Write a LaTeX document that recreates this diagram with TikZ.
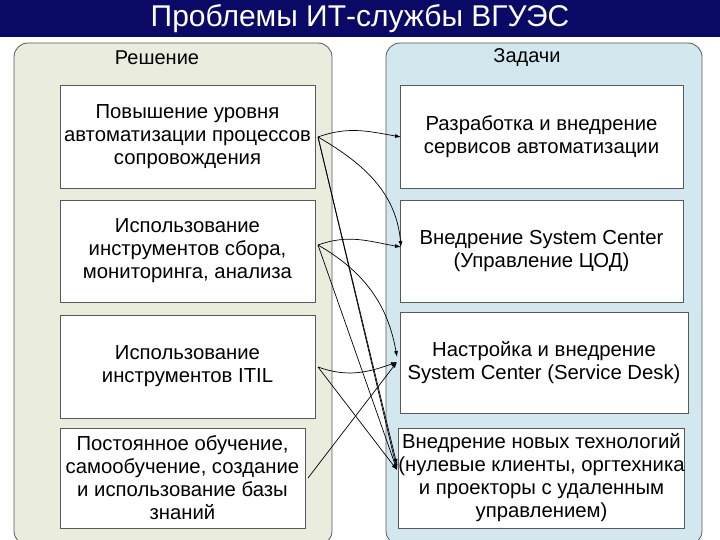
\documentclass[tikz,border=0pt]{standalone}
\usepackage{fontspec}
\setmainfont{Liberation Sans}
\usetikzlibrary{arrows.meta}
\definecolor{tbar}{HTML}{0A0A66}
\definecolor{lpan}{HTML}{EAECDD}
\definecolor{rpan}{HTML}{D2E8EE}
\tikzset{panel/.style={draw=gray!70!black,rounded corners=14pt,line width=0.8pt},
box/.style={draw=gray!70!black,fill=white,line width=0.6pt,align=center,font=\fontsize{20.3}{23}\selectfont,inner sep=0pt},
arr/.style={-{Latex[length=6pt,width=4pt]},line width=0.7pt}}
\begin{document}
\begin{tikzpicture}[x=1pt,y=-1pt]
\useasboundingbox (0,0) rectangle (720,540);
\fill[tbar] (0,0) rectangle (720,37);
\node[text=white,font=\fontsize{30}{32}\selectfont] (title) at (360,19) {Проблемы ИТ-службы ВГУЭС};
\draw[panel,fill=lpan] (14,43) rectangle (332,545);
\draw[panel,fill=rpan] (386,43) rectangle (702,545);
\node[font=\fontsize{20}{22}\selectfont] (hl) at (157,58) {Решение};
\node[font=\fontsize{20}{22}\selectfont] (hr) at (527,58) {Задачи};
\node[box,minimum width=255pt,minimum height=103pt] (l1) at (187.5,136.5) {Повышение уровня\\автоматизации процессов\\сопровождения};
\node[box,minimum width=255pt,minimum height=102pt] (l2) at (187.5,251) {Использование\\инструментов сбора,\\мониторинга, анализа};
\node[box,minimum width=255pt,minimum height=103pt] (l3) at (187.5,366.5) {Использование\\инструментов ITIL};
\node[box,minimum width=245pt,minimum height=100pt] (l4) at (182.5,478) {Постоянное обучение,\\самообучение, создание\\и использование базы\\знаний};
\node[box,minimum width=283pt,minimum height=103pt] (r1) at (541.5,136.5) {Разработка и внедрение\\сервисов автоматизации};
\node[box,minimum width=283pt,minimum height=102pt] (r2) at (541.5,251) {Внедрение System Center\\(Управление ЦОД)};
\node[box,minimum width=288pt,minimum height=101pt] (r3) at (544,362.5) {Настройка и внедрение\\System Center (Service Desk)};
\node[box,minimum width=283pt,minimum height=100pt] (r4) at (541.5,478) {Внедрение новых технологий\\(нулевые клиенты, оргтехника\\и проекторы с удаленным\\управлением)};
\coordinate (a1) at (318,137); \coordinate (a2) at (318,245); \coordinate (a3) at (318,367); \coordinate (a4) at (308,478);
\coordinate (b1) at (401,137); \coordinate (b2) at (401,247); \coordinate (b3) at (397,357); \coordinate (b3b) at (397,362); \coordinate (b4) at (397,470); \coordinate (b4b) at (397,465);
\draw[arr] (a1) to[out=20,in=170] (b1);
\draw[arr] (a1) to[out=-30,in=95] (b2);
\draw[arr] (a1) -- (b4);
\draw[arr] (a1) -- (b4b);
\draw[arr] (a2) to[out=20,in=170] (b2);
\draw[arr] (a2) to[out=-30,in=100] (b3);
\draw[arr] (a2) -- (b4);
\draw[arr] (a3) to[out=-20,in=200] (b3b);
\draw[arr] (a3) -- (b4);
\draw[arr] (a4) -- (b3b);
\end{tikzpicture}
\end{document}
